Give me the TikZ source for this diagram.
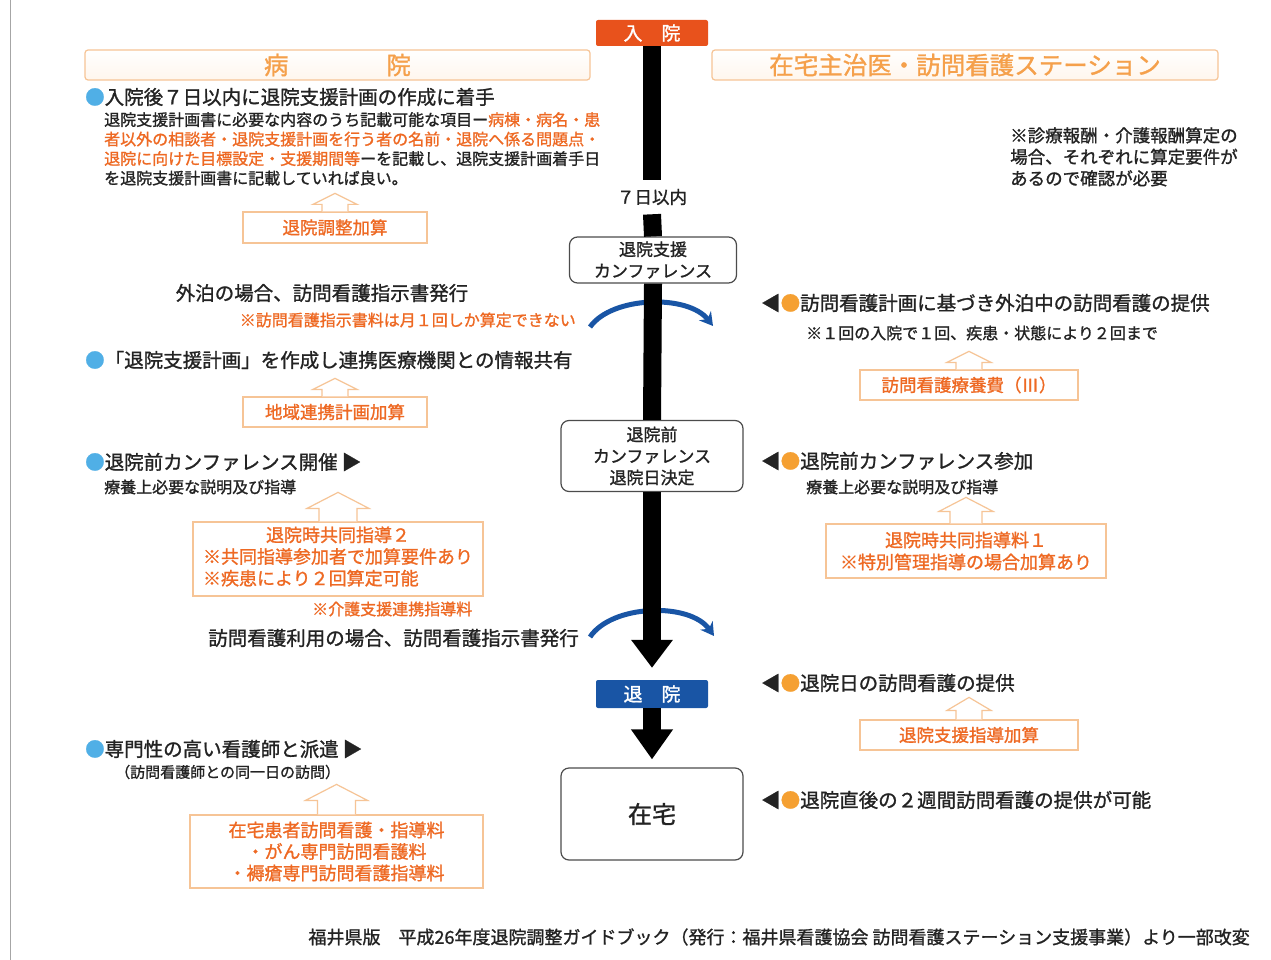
\documentclass[tikz,border=0pt]{standalone}
\usepackage{fontspec}
\setmainfont{Noto Sans CJK JP}[FakeBold=1.2]
\usetikzlibrary{arrows.meta}
\definecolor{ored}{RGB}{232,82,28}
\definecolor{otext}{RGB}{238,105,35}
\definecolor{oline}{RGB}{246,196,150}
\definecolor{htext}{RGB}{245,160,75}
\definecolor{bblue}{RGB}{80,175,230}
\definecolor{obul}{RGB}{245,160,50}
\definecolor{dblue}{RGB}{25,85,165}
\definecolor{txt}{RGB}{35,35,35}
\newcommand\fs[2]{\fontsize{#1}{#2}\selectfont}
\newcommand\myuparrow[5]{%
  \draw[uparr] ([xshift=-#2pt]#1.north) -- ++(0,-#4) -- ++(#2-#3,0) -- ++(#3,-#5) -- ++(#3,#5) -- ++(#2-#3,0) -- ++(0,#4);}
\tikzset{
  hdr/.style={draw=oline, line width=1.2, rounded corners=3, top color=white, bottom color=orange!7, text=htext, font=\fs{24.5}{27}},
  cbox/.style={draw=black!70, line width=1.2, rounded corners=8, fill=white, align=center, font=\fs{17}{21.5}, text=txt},
  obox/.style={draw=oline, line width=1.2, fill=white, text=otext, font=\fs{17.5}{21.5}, align=center},
  uparr/.style={draw=oline, line width=1.2, fill=white},
  mainline/.style={line width=18, black},
  barc/.style={dblue, line width=5, -{Stealth[length=13pt,width=15pt]}},
  big/.style={font=\fs{19.5}{22}, text=txt},
  small/.style={font=\fs{16}{19.5}, text=txt},
}
\begin{document}
\begin{tikzpicture}[x=1pt,y=-1pt, every node/.style={inner sep=0pt}]
\useasboundingbox (0,0) rectangle (1271,960);
\fill[white] (0,0) rectangle (1271,960);
\draw[black!35, line width=1] (10,0) -- (10,960);

% headers
\node[hdr, minimum width=505, minimum height=30] (hosp) at (337.5,65) {病　　　　院};
\node[hdr, minimum width=506, minimum height=30] (homehdr) at (965,65) {在宅主治医・訪問看護ステーション};

% blue arcs (under the main line)
\coordinate (c1s) at (590,327); \coordinate (c1e) at (713,326);
\draw[barc] (c1s) .. controls (612,296) and (688,294) .. (c1e);
\coordinate (c2s) at (590,637); \coordinate (c2e) at (714,636);
\draw[barc] (c2s) .. controls (612,604) and (690,602) .. (c2e);

% center column
\node[fill=ored, text=white, rounded corners=2, minimum width=112, minimum height=26, font=\fs{19}{22}] (admit) at (652,33) {入　院};
\node[font=\fs{17.5}{20}, text=txt, inner ysep=9] (seven) at (652,197) {７日以内};
\node[cbox, minimum width=167, minimum height=46] (conf1) at (653,260) {退院支援\\カンファレンス};
\node[cbox, minimum width=182, minimum height=71] (conf2) at (652,456) {退院前\\カンファレンス\\退院日決定};
\node[fill=dblue, text=white, rounded corners=2, minimum width=112, minimum height=28, font=\fs{19}{22}] (disch) at (652,694) {退　院};
\node[cbox, minimum width=182, minimum height=92, font=\fs{24}{26}] (zaitaku) at (652,814) {在宅};

\draw[mainline] (admit.south) -- (seven.north);
\draw[mainline] (seven.south) -- (conf1.north);
\draw[mainline] (conf1.south) -- (conf2.north);
\draw[mainline, -{Triangle[width=40pt,length=28pt]}, shorten >=12] (conf2.south) -- (disch.north);
\draw[mainline, -{Triangle[width=40pt,length=30pt]}, shorten >=8] (disch.south) -- (zaitaku.north);

% left column
\node[big, anchor=west] (l1) at (85,97) {\textcolor{bblue}{●}入院後７日以内に退院支援計画の作成に着手};
\node[small, anchor=north west, align=left] (l1p) at (104,112) {退院支援計画書に必要な内容のうち記載可能な項目ー\textcolor{otext}{病棟・病名・患}\\
\textcolor{otext}{者以外の相談者・退院支援計画を行う者の名前・退院へ係る問題点・}\\
\textcolor{otext}{退院に向けた目標設定・支援期間等}ーを記載し、退院支援計画着手日\\
を退院支援計画書に記載していれば良い。};
\node[obox, minimum width=184, minimum height=31] (b1) at (335,227.5) {退院調整加算};
\myuparrow{b1}{13}{22}{7}{11}

\node[big] (l2) at (322,293) {外泊の場合、訪問看護指示書発行};
\node[small, text=otext, anchor=east] (l2n) at (576,320) {※訪問看護指示書料は月１回しか算定できない};
\node[big, anchor=west] (l3) at (85,360) {\textcolor{bblue}{●}「退院支援計画」を作成し連携医療機関との情報共有};
\node[obox, minimum width=184, minimum height=30] (b2) at (335,412) {地域連携計画加算};
\myuparrow{b2}{13}{22}{7}{11}

\node[big, anchor=west] (l4) at (85,462) {\textcolor{bblue}{●}退院前カンファレンス開催\kern4pt▶};
\node[small, anchor=west] (l4s) at (104,487) {療養上必要な説明及び指導};
\node[obox, minimum width=290, minimum height=74, font=\fs{18}{21.5}] (b3) at (338,559) {\begin{tabular}{@{}l@{}}\multicolumn{1}{@{}c@{}}{退院時共同指導２}\\※共同指導参加者で加算要件あり\\※疾患により２回算定可能\end{tabular}};
\myuparrow{b3}{19}{31}{13}{16}
\node[small, text=otext, anchor=west] (l4n) at (312,609) {※介護支援連携指導料};
\node[big, anchor=east] (l5) at (579,638) {訪問看護利用の場合、訪問看護指示書発行};

\node[big, anchor=west] (l6) at (85,749) {\textcolor{bblue}{●}専門性の高い看護師と派遣\kern4pt▶};
\node[font=\fs{15}{18}, text=txt, anchor=west] (l6s) at (115,772) {（訪問看護師との同一日の訪問）};
\node[obox, minimum width=293, minimum height=73, font=\fs{18}{21.5}] (b4) at (336.5,851.5) {在宅患者訪問看護・指導料\\・がん専門訪問看護料\\・褥瘡専門訪問看護指導料};
\myuparrow{b4}{19}{31}{14}{16}

% right column
\node[font=\fs{17.5}{21.5}, text=txt, anchor=north west, align=left] (note) at (1010,127) {※診療報酬・介護報酬算定の\\場合、それぞれに算定要件が\\あるので確認が必要};
\node[big, anchor=west] (r1) at (761,303) {◀\textcolor{obul}{●}訪問看護計画に基づき外泊中の訪問看護の提供};
\node[small, anchor=west] (r1s) at (806,333) {※１回の入院で１回、疾患・状態により２回まで};
\node[obox, minimum width=218, minimum height=30] (b5) at (969,385) {訪問看護療養費（Ⅲ）};
\myuparrow{b5}{13}{22}{7}{11}

\node[big, anchor=west] (r2) at (761,461) {◀\textcolor{obul}{●}退院前カンファレンス参加};
\node[small, anchor=west] (r2s) at (806,487) {療養上必要な説明及び指導};
\node[obox, minimum width=280, minimum height=54, font=\fs{18}{22}] (b6) at (966,551) {退院時共同指導料１\\※特別管理指導の場合加算あり};
\myuparrow{b6}{16}{27}{12}{14}

\node[big, anchor=west] (r3) at (761,683) {◀\textcolor{obul}{●}退院日の訪問看護の提供};
\node[obox, minimum width=218, minimum height=30] (b7) at (969,735) {退院支援指導加算};
\myuparrow{b7}{13}{22}{9}{13}

\node[big, anchor=west] (r4) at (761,800) {◀\textcolor{obul}{●}退院直後の２週間訪問看護の提供が可能};

% footer
\node[font=\fs{18}{20}, text=txt, anchor=east] (foot) at (1250,937) {福井県版　平成26年度退院調整ガイドブック（発行：福井県看護協会 訪問看護ステーション支援事業）より一部改変};
\end{tikzpicture}
\end{document}
